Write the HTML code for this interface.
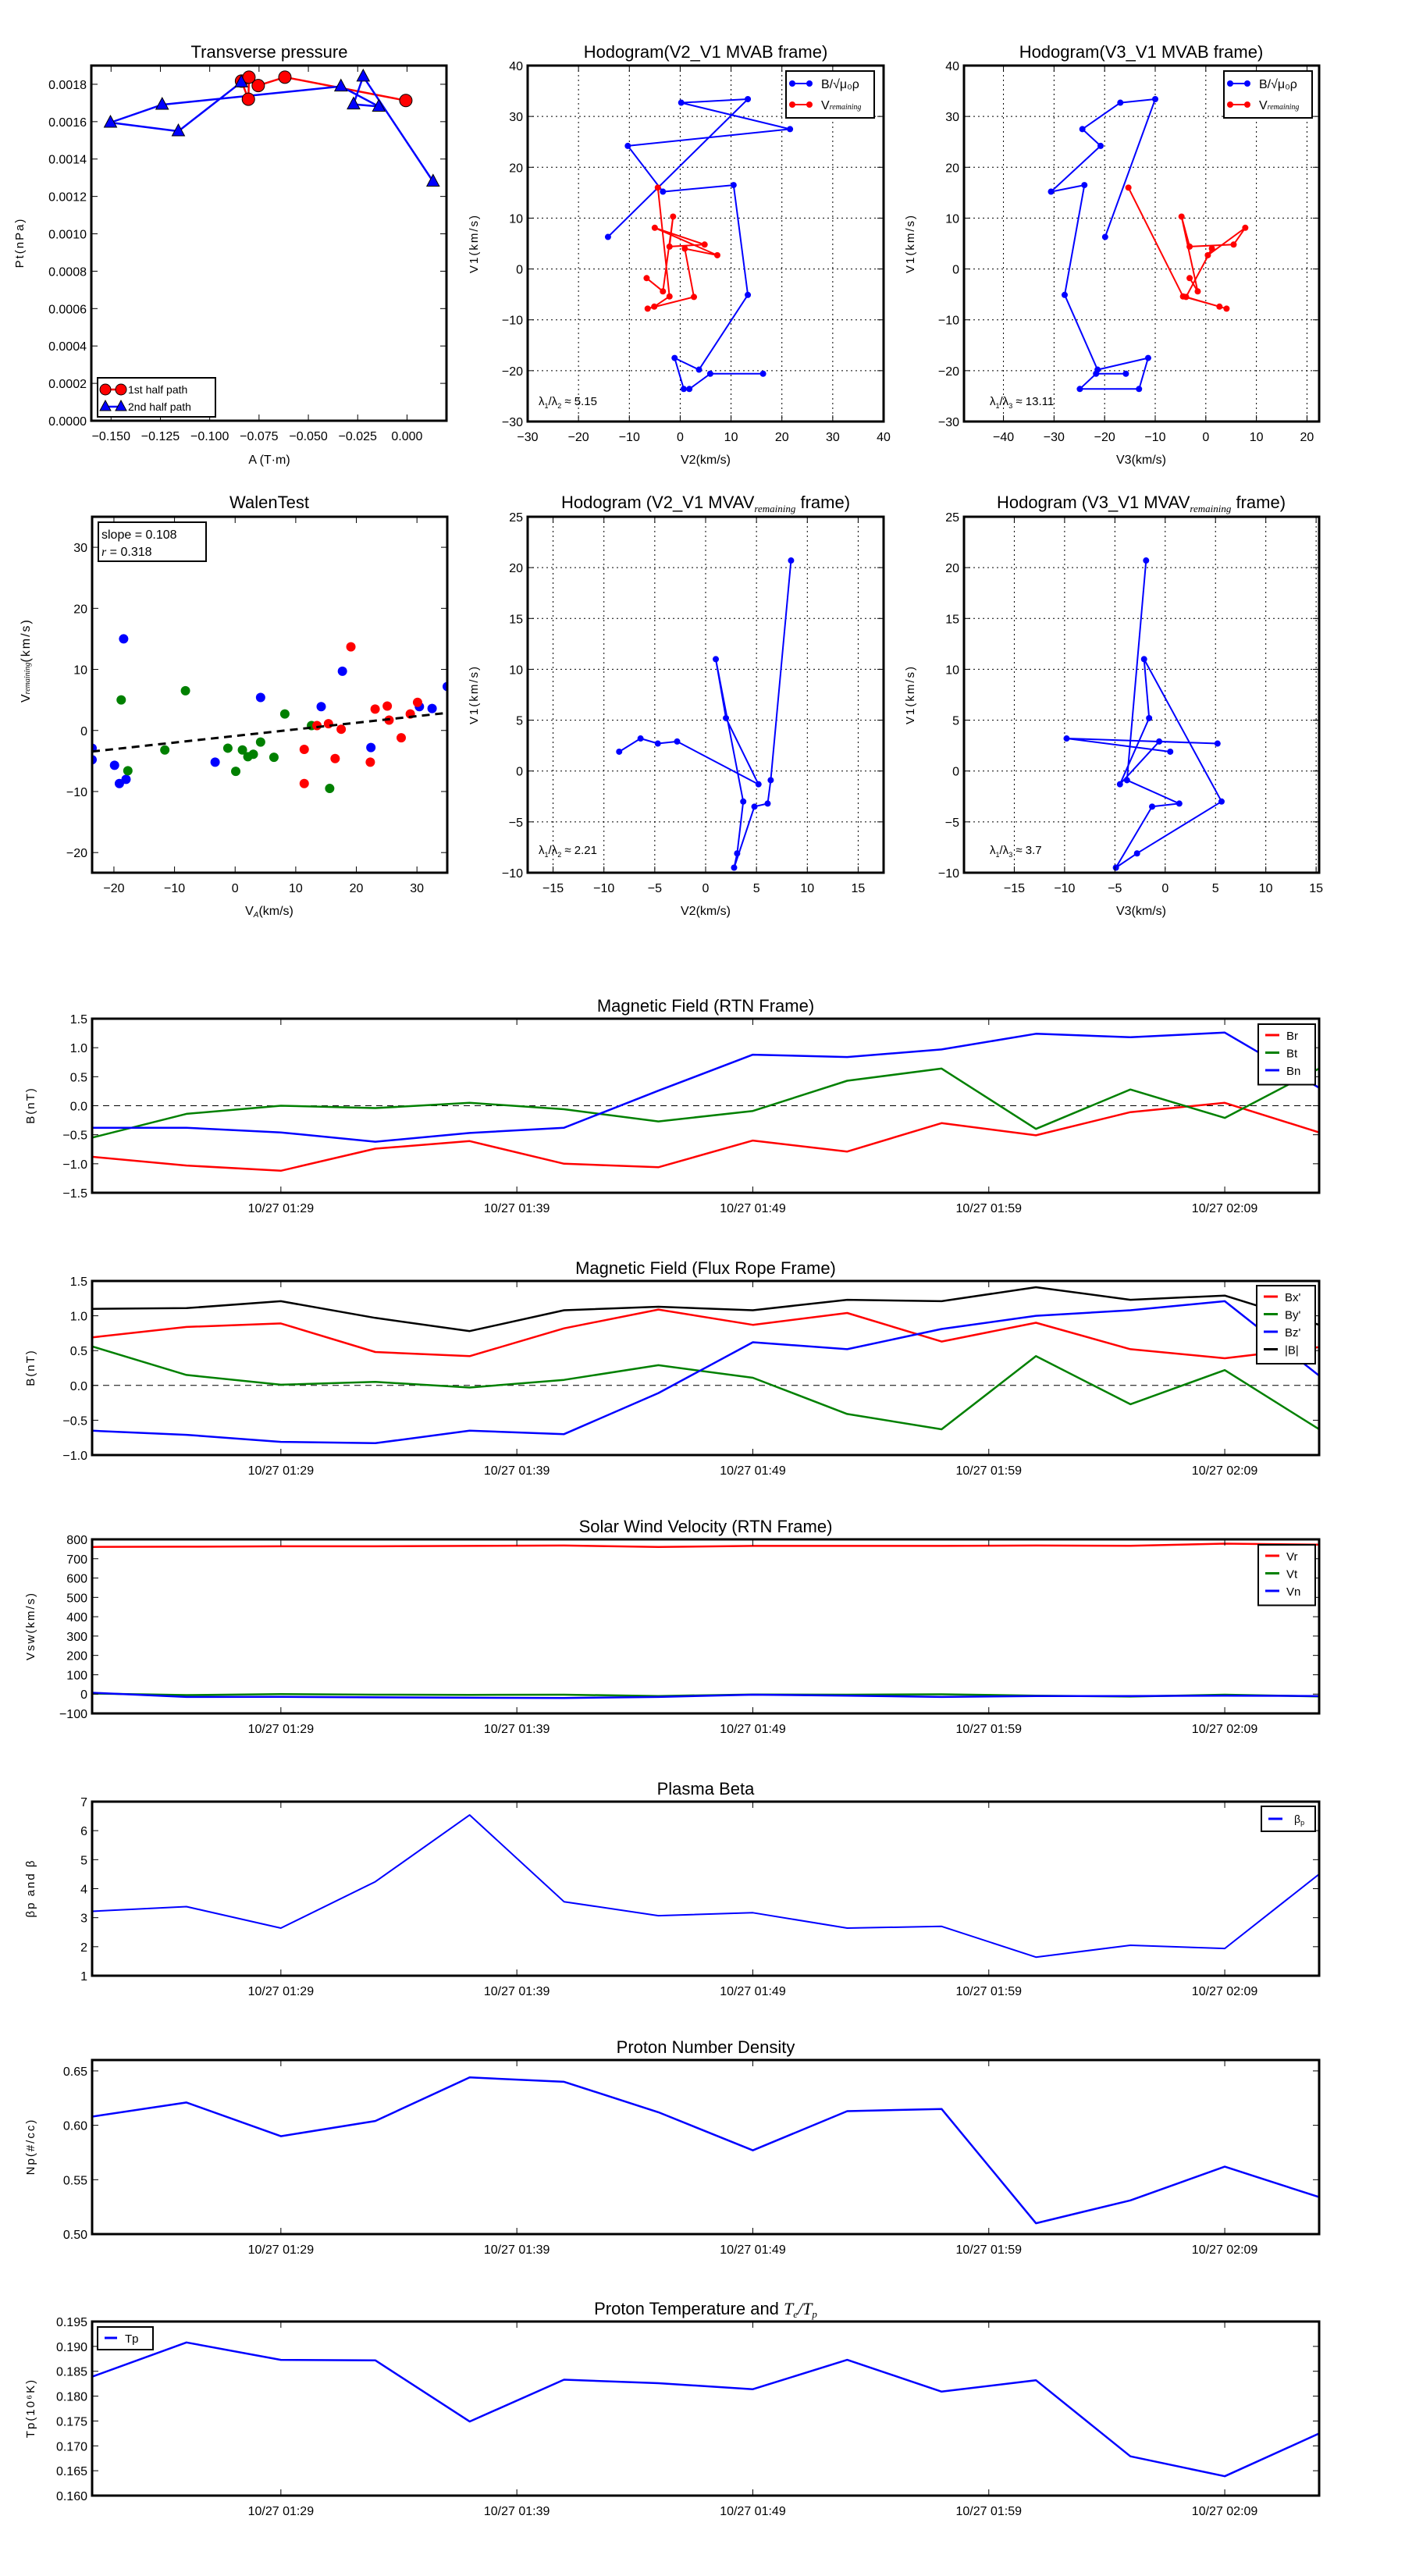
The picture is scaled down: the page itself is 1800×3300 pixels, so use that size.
<!DOCTYPE html>
<html><head><meta charset="utf-8"><style>
html,body{margin:0;padding:0;background:#fff;}
svg{display:block;font-family:"Liberation Sans",sans-serif;}
</style></head><body>
<svg id="fig" width="1800" height="3300" viewBox="0 0 1800 3300"></svg>
<script>
// ===== Transverse pressure =====
const tpA1 = [-0.0839,-0.0804,-0.0801,-0.0754,-0.0619,-0.0006];
const tpP1 = [0.001817,0.001720,0.001838,0.001793,0.001838,0.001713];
const tpA2 = [-0.0840,-0.1159,-0.1503,-0.1241,-0.0335,-0.0143,-0.0271,-0.0222,0.0132];
const tpP2 = [0.001811,0.001549,0.001595,0.001691,0.001789,0.001681,0.001693,0.001842,0.001280];
// ===== MVAB hodograms =====
const hbV1 = [6.3,33.4,32.7,27.5,24.2,15.2,16.5,-5.1,-19.8,-17.5,-23.6,-23.6,-20.6,-20.6];
const hbV2 = [-14.2,13.3,0.2,21.6,-10.3,-3.4,10.5,13.3,3.7,-1.1,0.7,1.8,5.9,16.3];
const hbV3 = [-19.9,-10.0,-16.9,-24.4,-20.8,-30.6,-24.0,-27.9,-21.4,-11.4,-13.2,-24.9,-21.7,-15.8];
const hvV1 = [16.0,-5.4,-7.4,-7.8,-5.5,4.0,2.7,8.1,4.8,4.4,10.3,-4.4,-1.8];
const hvV2 = [-4.4,-2.1,-5.1,-6.4,2.7,0.9,7.3,-5.0,4.8,-2.1,-1.4,-3.4,-6.6];
const hvV3 = [-15.3,-4.5,2.7,4.1,-3.9,1.2,0.4,7.8,5.5,-3.2,-4.8,-1.6,-3.2];
const ratio1 = "5.15", ratio2 = "13.11";
// ===== Walen test =====
const wBx = [-18.4,-23.6,-23.6,-19.9,-19.1,-18.0,-3.3,4.2,14.2,17.7,22.4,30.4,32.5,35.0];
const wBy = [15.0,-2.9,-4.8,-5.7,-8.7,-8.0,-5.2,5.4,3.9,9.7,-2.8,3.9,3.6,7.2];
const wGx = [-18.8,-17.7,-11.6,-8.2,-1.2,0.1,1.2,2.1,3.0,4.2,6.4,8.2,12.6,15.6];
const wGy = [5.0,-6.6,-3.2,6.5,-2.9,-6.7,-3.2,-4.3,-3.9,-1.9,-4.4,2.7,0.8,-9.5];
const wRx = [11.4,11.4,13.5,15.4,16.5,17.5,19.1,22.3,23.1,25.1,25.4,27.4,28.9,30.1];
const wRy = [-8.7,-3.1,0.8,1.1,-4.6,0.2,13.7,-5.2,3.5,4.0,1.7,-1.2,2.7,4.6];
const wSlope = 0.108, wIntercept = -0.9, wR = 0.318;
// ===== MVAV hodograms =====
const hrV1 = [1.9,3.2,2.7,2.9,-1.3,5.2,11.0,-3.0,-8.1,-9.5,-3.5,-3.2,-0.9,20.7];
const hrV2 = [-8.5,-6.4,-4.7,-2.8,5.2,2.0,1.0,3.7,3.1,2.8,4.8,6.1,6.4,8.4];
const hrV3 = [0.5,-9.8,5.2,-0.6,-4.5,-1.6,-2.1,5.6,-2.8,-4.9,-1.3,1.4,-3.8,-1.9];
const ratio3 = "2.21", ratio4 = "3.7";
// ===== Time series (4-min cadence starting 01:21) =====
const timeTicks = ["10/27 01:29","10/27 01:39","10/27 01:49","10/27 01:59","10/27 02:09"];
const timeTickMin = [8,18,28,38,48];
const Br = [-0.88,-1.03,-1.12,-0.74,-0.61,-1.0,-1.06,-0.60,-0.79,-0.30,-0.51,-0.11,0.05,-0.46];
const Bt = [-0.55,-0.14,0.0,-0.04,0.05,-0.06,-0.27,-0.09,0.43,0.64,-0.40,0.28,-0.21,0.64];
const Bn = [-0.38,-0.38,-0.46,-0.62,-0.47,-0.38,0.26,0.88,0.84,0.97,1.24,1.18,1.26,0.31];
const Bx1 = [0.69,0.84,0.89,0.48,0.42,0.82,1.09,0.87,1.04,0.63,0.90,0.52,0.39,0.55];
const By1 = [0.56,0.15,0.01,0.05,-0.03,0.08,0.29,0.11,-0.41,-0.63,0.42,-0.27,0.22,-0.63];
const Bz1 = [-0.65,-0.71,-0.81,-0.83,-0.65,-0.70,-0.11,0.62,0.52,0.81,1.0,1.08,1.21,0.14];
const Bmag = [1.10,1.11,1.21,0.97,0.78,1.08,1.13,1.08,1.23,1.21,1.41,1.23,1.29,0.87];
const Vr = [761,762,764,764,766,768,761,766,766,766,768,767,778,773];
const Vt = [3,-5,0,-3,-4,-3,-10,-2,-3,-1,-8,-13,-3,-12];
const Vn = [7,-15,-14,-17,-19,-20,-15,-3,-8,-15,-10,-10,-8,-10];
const betaP = [3.22,3.38,2.64,4.24,6.54,3.55,3.07,3.17,2.64,2.70,1.64,2.05,1.94,4.50];
const Np = [0.608,0.621,0.590,0.604,0.644,0.640,0.612,0.577,0.613,0.615,0.510,0.531,0.562,0.534];
const Tp = [0.1839,0.1908,0.1873,0.1872,0.1749,0.1833,0.1826,0.1814,0.1873,0.1809,0.1832,0.1679,0.1639,0.1725];

const NS = 'http://www.w3.org/2000/svg';
const svg = document.getElementById('fig');
let clipId = 0;
function el(tag, attrs, parent, name) {
  const e = document.createElementNS(NS, tag);
  for (const k in attrs) e.setAttribute(k, attrs[k]);
  
  
  parent.appendChild(e);
  return e;
}
function txt(s, x, y, parent, name, opts) {
  opts = opts || {};
  const t = el('text', {x: x, y: y, 'font-size': opts.size || 16, 'text-anchor': opts.anchor || 'middle', fill: '#000'}, parent, name);
  if (opts.rot) t.setAttribute('transform', 'rotate(-90 ' + x + ' ' + y + ')');
  if (opts.ls) t.setAttribute('letter-spacing', opts.ls);
  t.textContent = s;
  return t;
}
function panel(name, box, xlim, ylim, o) {
  const g = el('g', {}, svg, name);
  const sx = v => box.x0 + (v - xlim[0]) / (xlim[1] - xlim[0]) * (box.x1 - box.x0);
  const sy = v => box.y1 - (v - ylim[0]) / (ylim[1] - ylim[0]) * (box.y1 - box.y0);
  const id = 'c' + (clipId++);
  const cp = el('clipPath', {id: id}, g, name + '-clip');
  el('rect', {x: box.x0, y: box.y0, width: box.x1 - box.x0, height: box.y1 - box.y0}, cp, name + '-clip-rect');
  const plot = el('g', {'clip-path': 'url(#' + id + ')'}, g, name + '-plot-area');
  // grid
  if (o.grid) {
    o.xt.forEach(v => el('line', {x1: sx(v), x2: sx(v), y1: box.y0, y2: box.y1, stroke: '#000', 'stroke-width': 1, 'stroke-dasharray': '2,4'}, plot, 'grid-x'));
    o.yt.forEach(v => el('line', {x1: box.x0, x2: box.x1, y1: sy(v), y2: sy(v), stroke: '#000', 'stroke-width': 1, 'stroke-dasharray': '2,4'}, plot, 'grid-y'));
  }
  // ticks
  const xt = o.xtPos || o.xt;
  xt.forEach((v, i) => {
    const X = sx(v);
    el('line', {x1: X, x2: X, y1: box.y1, y2: box.y1 - 8, stroke: '#000', 'stroke-width': 1}, g, 'x-tick');
    el('line', {x1: X, x2: X, y1: box.y0, y2: box.y0 + 8, stroke: '#000', 'stroke-width': 1}, g, 'x-tick');
    txt(o.xl[i], X, box.y1 + 25, g, 'x-tick-label', {size: 16});
  });
  o.yt.forEach((v, i) => {
    const Y = sy(v);
    el('line', {x1: box.x0, x2: box.x0 + 8, y1: Y, y2: Y, stroke: '#000', 'stroke-width': 1}, g, 'y-tick');
    el('line', {x1: box.x1, x2: box.x1 - 8, y1: Y, y2: Y, stroke: '#000', 'stroke-width': 1}, g, 'y-tick');
    txt(o.yl[i], box.x0 - 6, Y + 6, g, 'y-tick-label', {size: 16, anchor: 'end'});
  });
  return {g: g, plot: plot, sx: sx, sy: sy, box: box};
}
function frame(p, name) {
  const b = p.box;
  el('rect', {x: b.x0, y: b.y0, width: b.x1 - b.x0, height: b.y1 - b.y0, fill: 'none', stroke: '#000', 'stroke-width': 3}, p.g, name + '-frame');
}
function line(p, xs, ys, color, w, name) {
  const pts = xs.map((x, i) => p.sx(x).toFixed(1) + ',' + p.sy(ys[i]).toFixed(1)).join(' ');
  el('polyline', {points: pts, fill: 'none', stroke: color, 'stroke-width': w, 'stroke-linejoin': 'round'}, p.plot, name);
}
function dots(p, xs, ys, color, r, name, stroke) {
  xs.forEach((x, i) => el('circle', {cx: p.sx(x), cy: p.sy(ys[i]), r: r, fill: color, stroke: stroke || 'none', 'stroke-width': 1}, p.plot, name));
}
function tris(p, xs, ys, color, name) {
  xs.forEach((x, i) => {
    const X = p.sx(x), Y = p.sy(ys[i]);
    el('polygon', {points: (X) + ',' + (Y - 9) + ' ' + (X - 8) + ',' + (Y + 6) + ' ' + (X + 8) + ',' + (Y + 6), fill: color, stroke: '#000', 'stroke-width': 1}, p.plot, name);
  });
}
function range(a, b, s) { const r = []; for (let v = a; v <= b + 1e-9; v += s) r.push(+v.toFixed(6)); return r; }
function title(s, x, y, name) { return txt(s, x, y, svg, name, {size: 22}); }
function minus(v, d) { return (v < 0 ? '\u2212' : '') + Math.abs(v).toFixed(d); }

// ---------- Transverse pressure ----------
{
  const xt = range(-0.15, 0, 0.025);
  const yt = range(0, 0.0018, 0.0002);
  const p = panel('transverse-pressure-chart', {x0: 117, x1: 572, y0: 84, y1: 539}, [-0.16, 0.02], [0, 0.0019],
    {xt: xt, xl: xt.map(v => minus(v, 3)), yt: yt, yl: yt.map(v => v.toFixed(4))});
  line(p, tpA1, tpP1, '#f00', 2.5, 'first-half-line');
  line(p, tpA2, tpP2, '#00f', 2.5, 'second-half-line');
  dots(p, tpA1, tpP1, '#f00', 8, 'first-half-marker', '#000');
  tris(p, tpA2, tpP2, '#00f', 'second-half-marker');
  frame(p, 'transverse-pressure');
  title('Transverse pressure', 345, 74, 'transverse-pressure-title');
  txt('A (T\u00b7m)', 345, 594, svg, 'x-axis-title', {size: 16});
  txt('Pt(nPa)', 30, 311, svg, 'y-axis-title', {size: 15, rot: true, ls: 2});
  const lg = el('g', {}, svg, 'legend');
  el('rect', {x: 125, y: 484, width: 151, height: 50, fill: '#fff', stroke: '#000', 'stroke-width': 2}, lg, 'legend-box');
  el('line', {x1: 133, x2: 157, y1: 499, y2: 499, stroke: '#f00', 'stroke-width': 2.5}, lg, 'legend-line-first');
  el('circle', {cx: 135, cy: 499, r: 7, fill: '#f00', stroke: '#000'}, lg, 'legend-marker-first');
  el('circle', {cx: 155, cy: 499, r: 7, fill: '#f00', stroke: '#000'}, lg, 'legend-marker-first');
  txt('1st half path', 164, 504, lg, 'legend-entry-first', {size: 14, anchor: 'start'});
  el('line', {x1: 133, x2: 157, y1: 521, y2: 521, stroke: '#00f', 'stroke-width': 2.5}, lg, 'legend-line-second');
  el('polygon', {points: '135,513 128,526 142,526', fill: '#00f', stroke: '#000'}, lg, 'legend-marker-second');
  el('polygon', {points: '155,513 148,526 162,526', fill: '#00f', stroke: '#000'}, lg, 'legend-marker-second');
  txt('2nd half path', 164, 526, lg, 'legend-entry-second', {size: 14, anchor: 'start'});
}

function hodoLegend(x0, y0) {
  const lg = el('g', {}, svg, 'legend');
  el('rect', {x: x0, y: y0, width: 113, height: 60, fill: '#fff', stroke: '#000', 'stroke-width': 2}, lg, 'legend-box');
  el('line', {x1: x0 + 7, x2: x0 + 31, y1: y0 + 16, y2: y0 + 16, stroke: '#00f', 'stroke-width': 2}, lg, 'legend-line-b');
  el('circle', {cx: x0 + 8, cy: y0 + 16, r: 4, fill: '#00f'}, lg, 'legend-marker-b');
  el('circle', {cx: x0 + 30, cy: y0 + 16, r: 4, fill: '#00f'}, lg, 'legend-marker-b');
  txt('B/\u221A\u03BC\u2080\u03C1', x0 + 45, y0 + 22, lg, 'legend-entry-b', {size: 16, anchor: 'start'});
  el('line', {x1: x0 + 7, x2: x0 + 31, y1: y0 + 43, y2: y0 + 43, stroke: '#f00', 'stroke-width': 2}, lg, 'legend-line-v');
  el('circle', {cx: x0 + 8, cy: y0 + 43, r: 4, fill: '#f00'}, lg, 'legend-marker-v');
  el('circle', {cx: x0 + 30, cy: y0 + 43, r: 4, fill: '#f00'}, lg, 'legend-marker-v');
  const t = txt('V', x0 + 45, y0 + 49, lg, 'legend-entry-v', {size: 16, anchor: 'start'});
  const ts = el('tspan', {'font-size': 10, 'font-style': 'italic', 'font-family': '"Liberation Serif",serif'}, t, 'legend-subscript');
  ts.textContent = 'remaining';
}
function lambdaText(x, y, sub2, val, name) {
  const t = txt('\u03BB', x, y, svg, name, {size: 15, anchor: 'start'});
  const a = el('tspan', {'font-size': 9, dy: 4}, t, 'lambda-sub'); a.textContent = '1';
  const b = el('tspan', {dy: -4}, t, 'lambda-slash'); b.textContent = '/\u03BB';
  const c = el('tspan', {'font-size': 9, dy: 4}, t, 'lambda-sub'); c.textContent = sub2;
  const d = el('tspan', {dy: -4}, t, 'lambda-value'); d.textContent = ' \u2248 ' + val;
}

// ---------- MVAB hodograms ----------
{
  const yt = range(-30, 40, 10);
  const xt1 = range(-30, 40, 10);
  const p = panel('hodogram-v2-v1-mvab', {x0: 676, x1: 1132, y0: 84, y1: 540}, [-30, 40], [-30, 40],
    {grid: true, xt: xt1, xl: xt1.map(v => minus(v, 0)), yt: yt, yl: yt.map(v => minus(v, 0))});
  line(p, hbV2, hbV1, '#00f', 2, 'b-hodogram-line'); dots(p, hbV2, hbV1, '#00f', 4, 'b-hodogram-point');
  line(p, hvV2, hvV1, '#f00', 2, 'v-hodogram-line'); dots(p, hvV2, hvV1, '#f00', 4, 'v-hodogram-point');
  frame(p, 'hodogram1');
  title('Hodogram(V2_V1 MVAB frame)', 904, 74, 'hodogram1-title');
  txt('V2(km/s)', 904, 594, svg, 'x-axis-title', {size: 16});
  txt('V1(km/s)', 612, 312, svg, 'y-axis-title', {size: 15, rot: true, ls: 2});
  hodoLegend(1007, 91);
  lambdaText(690, 519, '2', ratio1, 'eigenvalue-ratio');

  const xt2 = range(-40, 20, 10);
  const q = panel('hodogram-v3-v1-mvab', {x0: 1235, x1: 1690, y0: 84, y1: 540}, [-47.8, 22.4], [-30, 40],
    {grid: true, xt: xt2, xl: xt2.map(v => minus(v, 0)), yt: yt, yl: yt.map(v => minus(v, 0))});
  line(q, hbV3, hbV1, '#00f', 2, 'b-hodogram-line'); dots(q, hbV3, hbV1, '#00f', 4, 'b-hodogram-point');
  line(q, hvV3, hvV1, '#f00', 2, 'v-hodogram-line'); dots(q, hvV3, hvV1, '#f00', 4, 'v-hodogram-point');
  frame(q, 'hodogram2');
  title('Hodogram(V3_V1 MVAB frame)', 1462, 74, 'hodogram2-title');
  txt('V3(km/s)', 1462, 594, svg, 'x-axis-title', {size: 16});
  txt('V1(km/s)', 1171, 312, svg, 'y-axis-title', {size: 15, rot: true, ls: 2});
  hodoLegend(1568, 91);
  lambdaText(1268, 519, '3', ratio2, 'eigenvalue-ratio');
}

// ---------- Walen test ----------
{
  const xt = range(-20, 30, 10);
  const yt = range(-20, 30, 10);
  const p = panel('walen-test-chart', {x0: 118, x1: 573, y0: 662, y1: 1118}, [-23.6, 35], [-23.3, 35],
    {xt: xt, xl: xt.map(v => minus(v, 0)), yt: yt, yl: yt.map(v => minus(v, 0))});
  dots(p, wBx, wBy, '#00f', 6, 'walen-point-blue');
  dots(p, wGx, wGy, '#008000', 6, 'walen-point-green');
  dots(p, wRx, wRy, '#f00', 6, 'walen-point-red');
  const fx = [-23.6, 35];
  const fy = fx.map(x => wSlope * x + wIntercept);
  const l = el('line', {x1: p.sx(fx[0]), y1: p.sy(fy[0]), x2: p.sx(fx[1]), y2: p.sy(fy[1]), stroke: '#000', 'stroke-width': 3, 'stroke-dasharray': '10,7'}, p.plot, 'fit-line');
  frame(p, 'walen');
  el('rect', {x: 126, y: 669, width: 138, height: 50, fill: '#fff', stroke: '#000', 'stroke-width': 2}, svg, 'fit-stats-box');
  txt('slope = ' + wSlope.toFixed(3), 130, 690, svg, 'slope-label', {size: 16, anchor: 'start'});
  const rt = txt('', 130, 712, svg, 'r-label', {size: 16, anchor: 'start'});
  const ri = el('tspan', {'font-style': 'italic', 'font-family': '"Liberation Serif",serif'}, rt, 'r-symbol'); ri.textContent = 'r';
  const rv = el('tspan', {}, rt, 'r-value'); rv.textContent = ' = ' + wR.toFixed(3);
  title('WalenTest', 345, 651, 'walen-title');
  const xl = txt('V', 345, 1172, svg, 'x-axis-title', {size: 16});
  const xs = el('tspan', {'font-size': 10, 'font-style': 'italic', dy: 3}, xl, 'x-axis-subscript'); xs.textContent = 'A';
  const xs2 = el('tspan', {dy: -3}, xl, 'x-axis-unit'); xs2.textContent = '(km/s)';
  const yl = txt('V', 38, 900, svg, 'y-axis-title', {size: 16, rot: true, anchor: 'start'});
  const ys = el('tspan', {'font-size': 10, 'font-style': 'italic', 'font-family': '"Liberation Serif",serif'}, yl, 'y-axis-subscript'); ys.textContent = 'remaining';
  const ys2 = el('tspan', {'letter-spacing': 2}, yl, 'y-axis-unit'); ys2.textContent = '(km/s)';
}

// ---------- MVAV hodograms ----------
{
  const yt = range(-10, 25, 5);
  const xt = range(-15, 15, 5);
  const p = panel('hodogram-v2-v1-mvav', {x0: 676, x1: 1132, y0: 662, y1: 1118}, [-17.5, 17.5], [-10, 25],
    {grid: true, xt: xt, xl: xt.map(v => minus(v, 0)), yt: yt, yl: yt.map(v => minus(v, 0))});
  line(p, hrV2, hrV1, '#00f', 2, 'v-hodogram-line'); dots(p, hrV2, hrV1, '#00f', 4, 'v-hodogram-point');
  frame(p, 'hodogram3');
  const t1 = title('Hodogram (V2_V1 MVAV', 904, 651, 'hodogram3-title');
  const s1 = el('tspan', {'font-size': 13, 'font-style': 'italic', 'font-family': '"Liberation Serif",serif', dy: 5}, t1, 'title-subscript'); s1.textContent = 'remaining';
  const e1 = el('tspan', {dy: -5}, t1, 'title-end'); e1.textContent = ' frame)';
  txt('V2(km/s)', 904, 1172, svg, 'x-axis-title', {size: 16});
  txt('V1(km/s)', 612, 890, svg, 'y-axis-title', {size: 15, rot: true, ls: 2});
  lambdaText(690, 1094, '2', ratio3, 'eigenvalue-ratio');

  const q = panel('hodogram-v3-v1-mvav', {x0: 1235, x1: 1690, y0: 662, y1: 1118}, [-20, 15.3], [-10, 25],
    {grid: true, xt: xt, xl: xt.map(v => minus(v, 0)), yt: yt, yl: yt.map(v => minus(v, 0))});
  line(q, hrV3, hrV1, '#00f', 2, 'v-hodogram-line'); dots(q, hrV3, hrV1, '#00f', 4, 'v-hodogram-point');
  frame(q, 'hodogram4');
  const t2 = title('Hodogram (V3_V1 MVAV', 1462, 651, 'hodogram4-title');
  const s2 = el('tspan', {'font-size': 13, 'font-style': 'italic', 'font-family': '"Liberation Serif",serif', dy: 5}, t2, 'title-subscript'); s2.textContent = 'remaining';
  const e2 = el('tspan', {dy: -5}, t2, 'title-end'); e2.textContent = ' frame)';
  txt('V3(km/s)', 1462, 1172, svg, 'x-axis-title', {size: 16});
  txt('V1(km/s)', 1171, 890, svg, 'y-axis-title', {size: 15, rot: true, ls: 2});
  lambdaText(1268, 1094, '3', ratio4, 'eigenvalue-ratio');
}

// ---------- Time series ----------
const tIdx = Br.map((_, i) => i * 4);
function tsPanel(name, top, ylim, yt, dec, ylab) {
  const p = panel(name, {x0: 118, x1: 1690, y0: top, y1: top + 223}, [0, 52], ylim,
    {xt: timeTickMin, xl: timeTicks, yt: yt, yl: yt.map(v => minus(v, dec))});
  txt(ylab, 44, top + 111, svg, 'y-axis-title', {size: 15, rot: true, ls: 2});
  return p;
}
function tsLegend(x0, y0, w, entries, rowH) {
  const lg = el('g', {}, svg, 'legend');
  el('rect', {x: x0, y: y0, width: w, height: entries.length * rowH + 10, fill: '#fff', stroke: '#000', 'stroke-width': 2}, lg, 'legend-box');
  entries.forEach((e, i) => {
    const y = y0 + 14 + i * rowH;
    el('line', {x1: x0 + 9, x2: x0 + 27, y1: y, y2: y, stroke: e[1], 'stroke-width': 3}, lg, 'legend-line');
    txt(e[0], x0 + 36, y + 6, lg, 'legend-entry', {size: 15, anchor: 'start'});
  });
}
{
  const p = tsPanel('magnetic-field-rtn-chart', 1305, [-1.5, 1.5], range(-1.5, 1.5, 0.5), 1, 'B(nT)');
  el('line', {x1: 118, x2: 1690, y1: p.sy(0), y2: p.sy(0), stroke: '#000', 'stroke-width': 1, 'stroke-dasharray': '8,6'}, p.plot, 'zero-line');
  line(p, tIdx, Br, '#f00', 2.5, 'br-line');
  line(p, tIdx, Bt, '#008000', 2.5, 'bt-line');
  line(p, tIdx, Bn, '#00f', 2.5, 'bn-line');
  frame(p, 'mag-rtn');
  title('Magnetic Field (RTN Frame)', 904, 1296, 'mag-rtn-title');
  tsLegend(1612, 1312, 73, [['Br', '#f00'], ['Bt', '#008000'], ['Bn', '#00f']], 22.5);
}
{
  const p = tsPanel('magnetic-field-flux-rope-chart', 1641, [-1.0, 1.5], range(-1.0, 1.5, 0.5), 1, 'B(nT)');
  el('line', {x1: 118, x2: 1690, y1: p.sy(0), y2: p.sy(0), stroke: '#000', 'stroke-width': 1, 'stroke-dasharray': '8,6'}, p.plot, 'zero-line');
  line(p, tIdx, Bx1, '#f00', 2.5, 'bx-line');
  line(p, tIdx, By1, '#008000', 2.5, 'by-line');
  line(p, tIdx, Bz1, '#00f', 2.5, 'bz-line');
  line(p, tIdx, Bmag, '#000', 2.5, 'bmag-line');
  frame(p, 'mag-flux');
  title('Magnetic Field (Flux Rope Frame)', 904, 1632, 'mag-flux-title');
  tsLegend(1610, 1647, 75, [["Bx'", '#f00'], ["By'", '#008000'], ["Bz'", '#00f'], ['|B|', '#000']], 22.5);
}
{
  const p = tsPanel('solar-wind-velocity-chart', 1972, [-100, 800], range(-100, 800, 100), 0, 'Vsw(km/s)');
  line(p, tIdx, Vr, '#f00', 2.5, 'vr-line');
  line(p, tIdx, Vt, '#008000', 2.5, 'vt-line');
  line(p, tIdx, Vn, '#00f', 2.5, 'vn-line');
  frame(p, 'velocity');
  title('Solar Wind Velocity (RTN Frame)', 904, 1963, 'velocity-title');
  tsLegend(1612, 1979, 73, [['Vr', '#f00'], ['Vt', '#008000'], ['Vn', '#00f']], 22.5);
}
{
  const p = tsPanel('plasma-beta-chart', 2308, [1, 7], range(1, 7, 1), 0, '\u03B2p and \u03B2');
  line(p, tIdx, betaP, '#00f', 2, 'beta-line');
  frame(p, 'beta');
  title('Plasma Beta', 904, 2299, 'beta-title');
  const lg = el('g', {}, svg, 'legend');
  el('rect', {x: 1616, y: 2314, width: 69, height: 32, fill: '#fff', stroke: '#000', 'stroke-width': 2}, lg, 'legend-box');
  el('line', {x1: 1625, x2: 1643, y1: 2330, y2: 2330, stroke: '#00f', 'stroke-width': 3}, lg, 'legend-line');
  const bt = txt('\u03B2', 1658, 2335, lg, 'legend-entry', {size: 14, anchor: 'start'});
  const bs = el('tspan', {'font-size': 9, dy: 3}, bt, 'legend-subscript'); bs.textContent = 'p';
}
{
  const p = tsPanel('proton-density-chart', 2639, [0.5, 0.66], range(0.5, 0.65, 0.05), 2, 'Np(#/cc)');
  line(p, tIdx, Np, '#00f', 2.5, 'density-line');
  frame(p, 'density');
  title('Proton Number Density', 904, 2630, 'density-title');
}
{
  const p = tsPanel('proton-temperature-chart', 2974, [0.16, 0.195], range(0.16, 0.195, 0.005), 3, 'Tp(10\u2076K)');
  line(p, tIdx, Tp, '#00f', 2.5, 'temperature-line');
  frame(p, 'temperature');
  const t = title('Proton Temperature and ', 904, 2965, 'temperature-title');
  const a = el('tspan', {'font-style': 'italic', 'font-family': '"Liberation Serif",serif'}, t, 'title-math'); a.textContent = 'T';
  const b = el('tspan', {'font-size': 13, 'font-style': 'italic', dy: 4, 'font-family': '"Liberation Serif",serif'}, t, 'title-math'); b.textContent = 'e';
  const c = el('tspan', {'font-style': 'italic', dy: -4, 'font-family': '"Liberation Serif",serif'}, t, 'title-math'); c.textContent = '/T';
  const d = el('tspan', {'font-size': 13, 'font-style': 'italic', dy: 4, 'font-family': '"Liberation Serif",serif'}, t, 'title-math'); d.textContent = 'p';
  const lg = el('g', {}, svg, 'legend');
  el('rect', {x: 125, y: 2981, width: 71, height: 29, fill: '#fff', stroke: '#000', 'stroke-width': 2}, lg, 'legend-box');
  el('line', {x1: 134, x2: 150, y1: 2995, y2: 2995, stroke: '#00f', 'stroke-width': 3}, lg, 'legend-line');
  txt('Tp', 160, 3001, lg, 'legend-entry', {size: 15, anchor: 'start'});
}
</script>
</body></html>
